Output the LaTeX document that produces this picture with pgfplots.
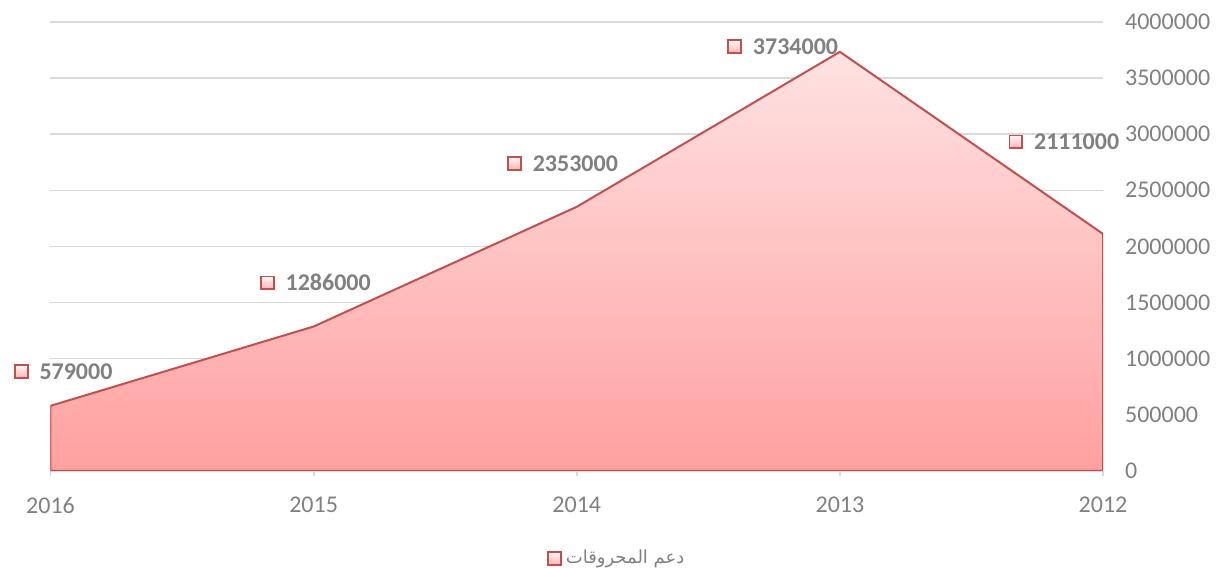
\documentclass[border=0pt]{standalone}
\usepackage{fontspec}
\setmainfont{Carlito}
\newfontfamily\arabicfont[Script=Arabic]{DejaVu Sans}
\TeXXeTstate=1
\usepackage{pgfplots}
\usepackage{pgfplotstable}
\pgfplotsset{compat=1.18}

\definecolor{linered}{HTML}{C0504D}
\definecolor{areatop}{HTML}{FFE2E2}
\definecolor{areabot}{HTML}{FFA0A0}
\definecolor{txtgray}{HTML}{808080}
\definecolor{gridgray}{HTML}{D9D9D9}

% year, value, label offset (pt) relative to the point
\pgfplotstableread{
year val     lx    ly
2016 579000  -18.5 17
2015 1286000 -27   22
2014 2353000 -35   21.5
2013 3734000 -56.5 2.5
2012 2111000 -47.5 46
}\fuel

\pgfplotsset{
  layers/arealayers/.define layer set={axis background,axis grid,main,axis ticks,axis lines,axis tick labels,axis descriptions,axis foreground}{},
}

\begin{document}
\newsavebox\mkbox
\sbox\mkbox{\tikz\shade[top color=white!70!areatop, bottom color=areabot!80!white, draw=linered, line width=0.9pt] (0,0) rectangle (6.4pt,6.4pt);}
\begin{tikzpicture}
\begin{axis}[
    name=ax,
    set layers=arealayers,
    scale only axis,
    width=526.5pt, height=224.5pt,
    xmin=2012, xmax=2016, x dir=reverse,
    ymin=0, ymax=4000000,
    axis x line*=bottom, axis y line*=right,
    y axis line style={draw=none},
    x axis line style={gridgray, line width=0.9pt},
    xtick={2012,2013,2014,2015,2016},
    xticklabels={2012,2013,2014,2015,2016},
    ytick={0,500000,...,4000000},
    scaled y ticks=false,
    yticklabel style={/pgf/number format/fixed, /pgf/number format/1000 sep={}, xshift=5pt},
    /pgf/number format/assume math mode=true,
    tick align=outside,
    major tick length=2.5pt,
    xtick style={gridgray, line width=0.9pt},
    ytick style={draw=none},
    ymajorgrids,
    grid style={gridgray, line width=0.75pt},
    ticklabel style={font=\fontsize{12}{14}\selectfont, text=txtgray},
    xticklabel style={yshift=-7pt},
    legend style={at={(0.539,-0.195)}, anchor=center, draw=none, fill=none,
        font=\fontsize{9}{11}\selectfont, text=txtgray,
        legend cell align=left},
    legend image code/.code={\shade[top color=white!70!areatop, bottom color=areabot!80!white, draw=linered, line width=0.9pt] (0pt,-3.2pt) rectangle (6.4pt,3.2pt);},
]
\addplot[draw=linered, line width=1pt, top color=areatop, bottom color=areabot]
    table[x=year, y=val] {\fuel} \closedcycle;
\addlegendentry{\arabicfont\beginR دعم المحروقات\endR}

\addplot[draw=none, mark=none, forget plot,
    point meta=explicit symbolic,
    visualization depends on={\thisrow{lx} \as \lx},
    visualization depends on={\thisrow{ly} \as \ly},
    nodes near coords={\raisebox{0.3pt}{\usebox\mkbox}\hspace{5.5pt}\pgfplotspointmeta},
    nodes near coords style={anchor=west, inner sep=0pt, xshift=\lx pt, yshift=\ly pt,
        font=\fontsize{12}{14}\selectfont\bfseries, text=txtgray},
] table[x=year, y=val, meta=val] {\fuel};
\end{axis}
\pgfresetboundingbox
\path ([shift={(-23pt,-48.5pt)}]ax.south west) rectangle ([shift={(57.5pt,11pt)}]ax.north east);
\end{tikzpicture}
\end{document}
